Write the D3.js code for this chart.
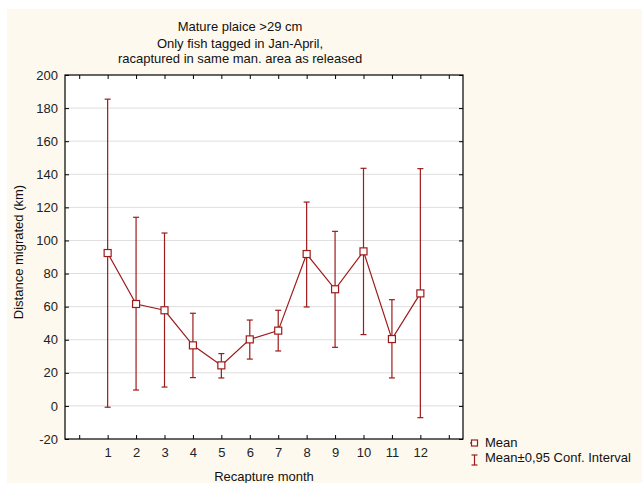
<!DOCTYPE html>
<html>
<head>
<meta charset="utf-8">
<script src="https://cdn.jsdelivr.net/npm/d3@7"></script>
<style>
  body { margin: 0; background: #fff; }
  svg { display: block; font-family: "Liberation Sans", Arial, sans-serif; }
</style>
</head>
<body>
<svg id="chart" width="642" height="483"></svg>
<script>
// data
var months = [1, 2, 3, 4, 5, 6, 7, 8, 9, 10, 11, 12];
var means  = [92.4, 61.6, 57.8, 36.6, 24.5, 40.2, 45.5, 91.8, 70.5, 93.4, 40.4, 68.0];
var upper  = [185.4, 114.0, 104.5, 56.0, 31.6, 51.9, 57.8, 123.2, 105.5, 143.6, 64.2, 143.4];
var lower  = [-0.8, 9.6, 11.4, 17.1, 16.9, 28.3, 33.2, 59.8, 35.4, 43.1, 16.9, -7.1];
var yTicks = [-20, 0, 20, 40, 60, 80, 100, 120, 140, 160, 180, 200];
var titleLines = ["Mature plaice >29 cm", "Only fish tagged in Jan-April,", "racaptured in same man. area as released"];

var red = "#9e1b1b";
var svg = d3.select("#chart");
var plot = { left: 65, right: 463, top: 75, bottom: 439 };
var fs = 13;

// cream page background
svg.append("rect")
  .attr("x", 7).attr("y", 9)
  .attr("width", 642 - 7).attr("height", 483 - 9)
  .attr("fill", "#fef9ee");

let x = d3.scaleLinear().domain([-0.5, 13.5]).range([plot.left, plot.right]);
let y = d3.scaleLinear().domain([-20, 200]).range([plot.bottom, plot.top]);

// plot area
svg.append("rect")
  .attr("x", plot.left).attr("y", plot.top)
  .attr("width", plot.right - plot.left).attr("height", plot.bottom - plot.top)
  .attr("fill", "#fff");

// grid lines
svg.append("g").selectAll("line")
  .data(yTicks.slice(1, -1))
  .enter().append("line")
  .attr("x1", plot.left).attr("x2", plot.right)
  .attr("y1", d => y(d)).attr("y2", d => y(d))
  .attr("stroke", "#dedede")
  .attr("stroke-width", 1);

// axes, ticks pointing inward
let xTickVals = d3.range(0, 14);
svg.append("g")
  .attr("transform", `translate(0,${plot.bottom})`)
  .call(d3.axisBottom(x).tickValues(xTickVals).tickSize(-4).tickPadding(9)
    .tickFormat(d => (d >= 1 && d <= 12) ? d : ""))
  .call(g => g.select(".domain").remove())
  .call(g => g.selectAll("text").attr("font-size", fs).attr("fill", "#222").attr("font-family", "Liberation Sans, Arial, sans-serif"));
svg.append("g")
  .attr("transform", `translate(0,${plot.top})`)
  .call(d3.axisTop(x).tickValues(xTickVals).tickSize(-4).tickFormat(""))
  .call(g => g.select(".domain").remove());
svg.append("g")
  .attr("transform", `translate(${plot.left},0)`)
  .call(d3.axisLeft(y).tickValues(yTicks).tickSize(-4).tickPadding(7).tickFormat(d => String(d)))
  .call(g => g.select(".domain").remove())
  .call(g => g.selectAll("text").attr("font-size", fs).attr("fill", "#222").attr("font-family", "Liberation Sans, Arial, sans-serif"));
svg.append("g")
  .attr("transform", `translate(${plot.right},0)`)
  .call(d3.axisRight(y).tickValues(yTicks).tickSize(-4).tickFormat(""))
  .call(g => g.select(".domain").remove());

svg.append("rect")
  .attr("x", plot.left).attr("y", plot.top)
  .attr("width", plot.right - plot.left).attr("height", plot.bottom - plot.top)
  .attr("fill", "none").attr("stroke", "#000").attr("stroke-width", 1.2);

// error bars
let bars = svg.append("g").attr("stroke", red).attr("stroke-width", 1.2);
months.forEach((m, i) => {
  bars.append("line")
    .attr("x1", x(m)).attr("x2", x(m))
    .attr("y1", y(upper[i])).attr("y2", y(lower[i]));
  [upper[i], lower[i]].forEach(v => {
    bars.append("line")
      .attr("x1", x(m) - 3).attr("x2", x(m) + 3)
      .attr("y1", y(v)).attr("y2", y(v));
  });
});

// mean line
let line = d3.line()
  .x((d, i) => x(months[i]))
  .y(d => y(d));
svg.append("path")
  .datum(means)
  .attr("d", line)
  .attr("fill", "none")
  .attr("stroke", red)
  .attr("stroke-width", 1.2);

svg.append("g").selectAll("rect")
  .data(means)
  .enter().append("rect")
  .attr("x", (d, i) => x(months[i]) - 3.5)
  .attr("y", d => y(d) - 3.5)
  .attr("width", 7).attr("height", 7)
  .attr("fill", "#fff")
  .attr("stroke", red)
  .attr("stroke-width", 1.2);

// titles
svg.append("g").selectAll("text")
  .data(titleLines)
  .enter().append("text")
  .attr("x", 240)
  .attr("y", (d, i) => [31, 48, 63][i])
  .attr("text-anchor", "middle")
  .attr("font-size", fs)
  .attr("fill", "#111")
  .text(d => d);

svg.append("text")
  .attr("x", (plot.left + plot.right) / 2)
  .attr("y", 481)
  .attr("text-anchor", "middle")
  .attr("font-size", fs)
  .attr("fill", "#111")
  .text("Recapture month");

svg.append("text")
  .attr("transform", `translate(23,252) rotate(-90)`)
  .attr("text-anchor", "middle")
  .attr("font-size", fs)
  .attr("fill", "#111")
  .text("Distance migrated (km)");

// legend
let lg = svg.append("g");
lg.append("line").attr("x1", 470).attr("x2", 478).attr("y1", 443).attr("y2", 443)
  .attr("stroke", red).attr("stroke-width", 1.2);
lg.append("rect").attr("x", 471.5).attr("y", 440).attr("width", 6).attr("height", 6)
  .attr("fill", "#fff").attr("stroke", red).attr("stroke-width", 1.2);
lg.append("text").attr("x", 485).attr("y", 447).attr("font-size", fs).attr("fill", "#111").text("Mean");
lg.append("line").attr("x1", 474.5).attr("x2", 474.5).attr("y1", 455).attr("y2", 465)
  .attr("stroke", red).attr("stroke-width", 1.2);
lg.append("line").attr("x1", 471.5).attr("x2", 477.5).attr("y1", 455).attr("y2", 455)
  .attr("stroke", red).attr("stroke-width", 1.2);
lg.append("line").attr("x1", 471.5).attr("x2", 477.5).attr("y1", 465).attr("y2", 465)
  .attr("stroke", red).attr("stroke-width", 1.2);
lg.append("text").attr("x", 485).attr("y", 462).attr("font-size", fs).attr("fill", "#111").text("Mean\u00b10,95 Conf. Interval");
</script>
</body>
</html>
